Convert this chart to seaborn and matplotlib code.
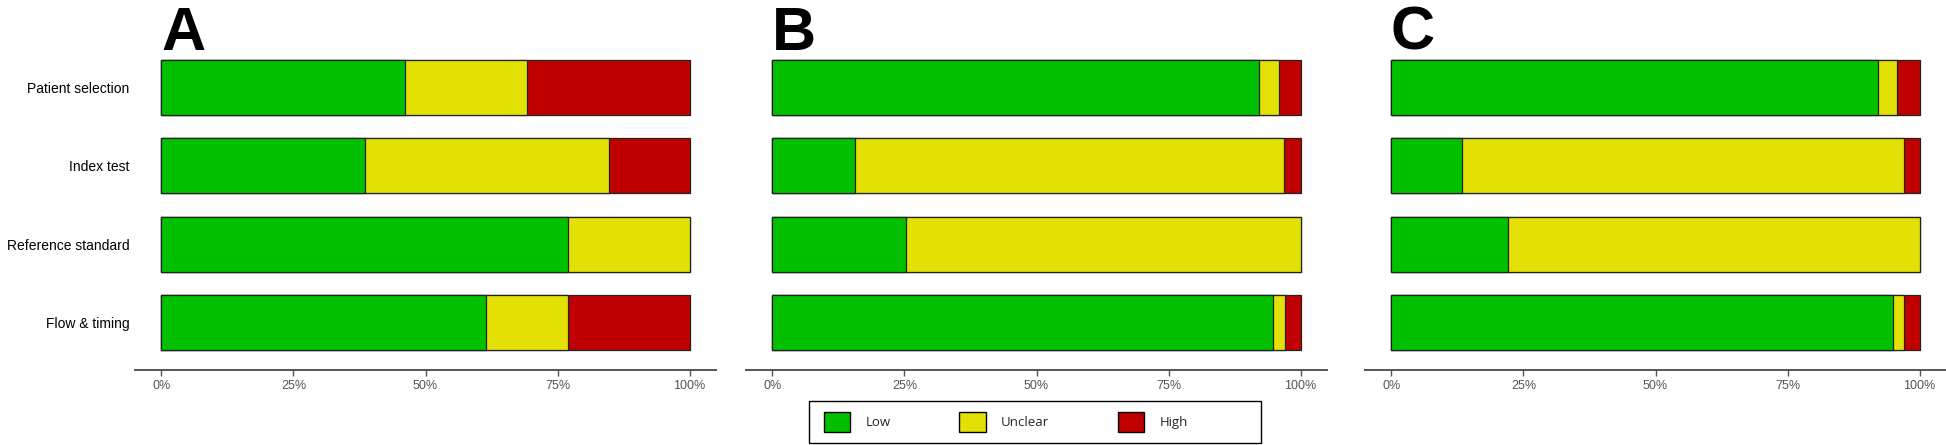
import matplotlib
matplotlib.use('Agg')
import matplotlib.pyplot as plt
import matplotlib.patches as mpatches
from matplotlib.ticker import PercentFormatter
import pandas as pd
import seaborn as sns

domains = ["Patient selection", "Index test", "Reference standard", "Flow & timing"]

# % of studies per risk-of-bias judgement
a_low = [46.2, 38.5, 76.9, 61.5]
a_unclear = [23.1, 46.2, 23.1, 15.4]
a_high = [30.8, 15.4, 0.0, 23.1]

b_low = [92.2, 15.7, 25.2, 94.7]
b_unclear = [3.7, 81.2, 74.8, 2.4]
b_high = [4.1, 3.1, 0.0, 2.9]

c_low = [92.1, 13.3, 22.0, 95.0]
c_unclear = [3.6, 83.8, 78.0, 2.1]
c_high = [4.3, 2.9, 0.0, 2.9]

panels = ["A", "B", "C"]
levels = ["Low", "Unclear", "High"]
colors = {"Low": "#00C000", "Unclear": "#E2E004", "High": "#C00000"}

sns.set_style("white")
plt.rcParams['font.family'] = ["Liberation Sans", "DejaVu Sans"]

W, H = 1946, 445
fig = plt.figure(figsize=(W / 100, H / 100), dpi=100)
lefts = [135 / W, 746 / W, 1365 / W]
width = 581 / W
bottom, top = 0.169, 0.910

data = [(a_low, a_unclear, a_high), (b_low, b_unclear, b_high), (c_low, c_unclear, c_high)]

for i, (name, (low, unc, high)) in enumerate(zip(panels, data)):
    ax = fig.add_axes([lefts[i], bottom, width, top - bottom])
    df = pd.DataFrame({"domain": domains, "Low": low, "Unclear": unc, "High": high})
    df["c_low"] = df["Low"] / 100
    df["c_unc"] = (df["Low"] + df["Unclear"]) / 100
    df["c_high"] = (df["Low"] + df["Unclear"] + df["High"]) / 100
    # stacked look: draw cumulative totals, longest first
    for col, lev in [("c_high", "High"), ("c_unc", "Unclear"), ("c_low", "Low")]:
        sns.barplot(data=df, x=col, y="domain", order=domains, orient="h",
                    color=colors[lev], saturation=1, width=0.7,
                    edgecolor="#222222", linewidth=0.9, ax=ax)
    ax.set_xlim(-0.05, 1.05)
    ax.set_ylim(3.6, -0.6)
    ax.set_xticks([0, 0.25, 0.5, 0.75, 1.0])
    ax.xaxis.set_major_formatter(PercentFormatter(1.0, decimals=0))
    ax.set_xlabel("")
    ax.set_ylabel("")
    for s in ["top", "right", "left"]:
        ax.spines[s].set_visible(False)
    ax.spines["bottom"].set_color("#555555")
    ax.spines["bottom"].set_linewidth(1.4)
    ax.tick_params(axis="x", colors="#555555", labelsize=9, length=4, width=1.0,
                   direction="out", bottom=True, pad=3)
    ax.tick_params(axis="y", length=0, labelsize=10, labelcolor="black", pad=4)
    if i > 0:
        ax.set_yticklabels([])
    fig.text(lefts[i] + 26 / W, 1 - 50 / H, name, fontsize=44, fontweight="bold",
             color="black", ha="left", va="baseline")

# legend: boxed strip below the middle panel, extra room on the right
fig.patches.append(mpatches.Rectangle((809 / W, 1 - 443 / H), 452 / W, 42 / H,
                                      transform=fig.transFigure, facecolor="white",
                                      edgecolor="black", linewidth=1.0, zorder=0))
handles = [mpatches.Patch(facecolor=colors[l], edgecolor="black", linewidth=1.0, label=l)
           for l in levels]
leg = fig.legend(handles=handles, loc="center left", ncol=3,
                 bbox_to_anchor=(824 / W, 1 - 422 / H), frameon=False,
                 handlelength=2.0, handleheight=1.9, handletextpad=1.15,
                 columnspacing=5.2, borderpad=0, borderaxespad=0,
                 prop={"family": ["Open Sans", "DejaVu Sans"], "size": 9.5})

fig.savefig("out.png", dpi=100)
